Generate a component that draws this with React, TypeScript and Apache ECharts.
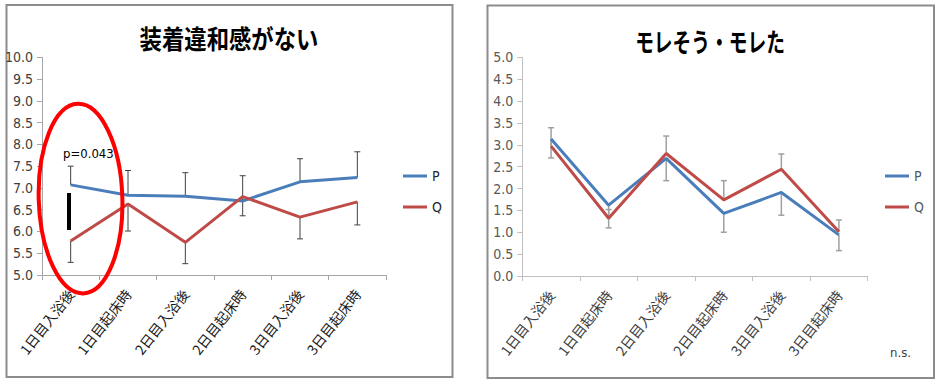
import React, { useEffect, useRef } from "react";
import * as echarts from "echarts";

const categories = ["1日目入浴後", "1日目起床時", "2日目入浴後", "2日目起床時", "3日目入浴後", "3日目起床時"];
const seriesNames = ["P", "Q"];

// left chart: 装着違和感がない
const leftTitle = "装着違和感がない";
const leftP = [7.07, 6.83, 6.81, 6.7, 7.14, 7.24];
const leftQ = [5.78, 6.63, 5.75, 6.8, 6.33, 6.68];
const leftPErrPlus = [0.43, 0.57, 0.54, 0.58, 0.53, 0.59];
const leftQErrMinus = [0.49, 0.62, 0.49, 0.44, 0.5, 0.53];
const leftAnnotation = "p=0.043";

// right chart: モレそう・モレた
const rightTitle = "モレそう・モレた";
const rightP = [3.13, 1.62, 2.69, 1.43, 1.91, 0.94];
const rightQ = [2.97, 1.32, 2.8, 1.74, 2.44, 1.01];
const rightPErrMinus = [0.43, 0.52, 0.51, 0.43, 0.52, 0.36];
const rightQErrPlus = [0.42, 0.2, 0.4, 0.44, 0.35, 0.27];
const rightAnnotation = "n.s.";

const BLUE = "#4a7ebb";
const RED = "#be4b48";
const NARROW = '"Liberation Sans Narrow", "DejaVu Sans Condensed", "Liberation Sans", sans-serif';
const CJK = '"Noto Sans CJK JP", "Noto Sans", sans-serif';

function errSeries(name: string, axisIndex: number, values: number[], errs: number[], dir: number, color: string, lw: number) {
  return {
    type: "custom",
    name,
    xAxisIndex: axisIndex,
    yAxisIndex: axisIndex,
    z: 1,
    silent: true,
    encode: { x: 0, y: 1 },
    data: values.map((v, i) => [i, v, errs[i], dir]),
    renderItem: (params: any, api: any) => {
      const x = api.value(0);
      const v = api.value(1);
      const e = api.value(2);
      const d = api.value(3);
      const p0 = api.coord([x, v]);
      const p1 = api.coord([x, v + d * e]);
      const hw = 3;
      const style = { stroke: color, lineWidth: lw };
      return {
        type: "group",
        children: [
          { type: "line", shape: { x1: p0[0], y1: p0[1], x2: p1[0], y2: p1[1] }, style },
          { type: "line", shape: { x1: p1[0] - hw, y1: p1[1], x2: p1[0] + hw, y2: p1[1] }, style },
        ],
      };
    },
  };
}

function lineSeries(name: string, axisIndex: number, values: number[], color: string) {
  return {
    type: "line",
    name,
    xAxisIndex: axisIndex,
    yAxisIndex: axisIndex,
    data: values,
    symbol: "none",
    z: 3,
    color,
    lineStyle: { color, width: 3 },
  };
}

export default function App() {
  const ref = useRef<HTMLDivElement>(null);
  useEffect(() => {
    if (!ref.current) return;
    const chart = echarts.init(ref.current, undefined, { renderer: "svg" });
    const xAxisBase = (labelColor: string, lineColor: string) => ({
      type: "category",
      data: categories,
      boundaryGap: true,
      axisLine: { lineStyle: { color: lineColor, width: 1 } },
      axisTick: { show: true, length: 5, lineStyle: { color: lineColor } },
      axisLabel: { rotate: 52, margin: 16, fontSize: 14, color: labelColor, fontFamily: CJK, interval: 0 },
      splitLine: { show: false },
    });
    const yAxisBase = (min: number, max: number, labelColor: string, lineColor: string) => ({
      type: "value",
      min,
      max,
      interval: 0.5,
      axisLine: { show: true, lineStyle: { color: lineColor, width: 1 } },
      axisTick: { show: true, length: 5, lineStyle: { color: lineColor } },
      axisLabel: {
        fontSize: 14,
        color: labelColor,
        fontFamily: NARROW,
        margin: 9,
        formatter: (v: number) => v.toFixed(1),
      },
      splitLine: { show: false },
    });
    const legendBase = (left: number, color: string) => ({
      data: seriesNames,
      orient: "vertical",
      left,
      top: 163,
      padding: 5,
      icon: "rect",
      itemWidth: 24,
      itemHeight: 3,
      itemGap: 15,
      textStyle: { fontSize: 14, lineHeight: 16, color, fontFamily: NARROW },
    });
    chart.setOption({
      animation: false,
      backgroundColor: "#ffffff",
      legend: [legendBase(398, "#262626"), legendBase(880, "#595959")],
      grid: [
        { left: 42, top: 57.3, width: 344, height: 217.7, containLabel: false },
        { left: 522.3, top: 57.3, width: 345.4, height: 218.7, containLabel: false },
      ],
      xAxis: [
        { ...xAxisBase("#1a1a1a", "#a6a6a6"), gridIndex: 0 },
        { ...xAxisBase("#404040", "#bfbfbf"), gridIndex: 1 },
      ],
      yAxis: [
        { ...yAxisBase(5, 10, "#404040", "#a6a6a6"), gridIndex: 0 },
        { ...yAxisBase(0, 5, "#595959", "#bfbfbf"), gridIndex: 1 },
      ],
      series: [
        errSeries("P-err", 0, leftP, leftPErrPlus, 1, "#404040", 1),
        errSeries("Q-err", 0, leftQ, leftQErrMinus, -1, "#404040", 1),
        lineSeries("P", 0, leftP, BLUE),
        lineSeries("Q", 0, leftQ, RED),
        errSeries("P-err2", 1, rightP, rightPErrMinus, -1, "#a0a0a0", 1.5),
        errSeries("Q-err2", 1, rightQ, rightQErrPlus, 1, "#a0a0a0", 1.5),
        lineSeries("P", 1, rightP, BLUE),
        lineSeries("Q", 1, rightQ, RED),
      ],
      graphic: [
        {
          type: "rect",
          shape: { x: 6.5, y: 5, width: 446, height: 372 },
          style: { fill: "none", stroke: "#8c8c8c", lineWidth: 2 },
          silent: true,
        },
        {
          type: "rect",
          shape: { x: 487.5, y: 5.5, width: 446.5, height: 372.5 },
          style: { fill: "none", stroke: "#8c8c8c", lineWidth: 2 },
          silent: true,
        },
        {
          type: "text",
          x: 229,
          y: 38,
          scaleX: 0.86,
          style: {
            text: leftTitle,
            fontSize: 26,
            fontWeight: "bold",
            fontFamily: CJK,
            fill: "#000",
            textAlign: "center",
            textVerticalAlign: "middle",
          },
        },
        {
          type: "text",
          x: 710,
          y: 41,
          scaleX: 0.72,
          style: {
            text: rightTitle,
            fontSize: 26,
            fontWeight: "bold",
            fontFamily: CJK,
            fill: "#000",
            textAlign: "center",
            textVerticalAlign: "middle",
          },
        },
        {
          type: "line",
          shape: { x1: 69, y1: 193, x2: 69, y2: 230 },
          style: { stroke: "#000", lineWidth: 4 },
          z: 10,
        },
        {
          type: "text",
          x: 63,
          y: 153,
          style: {
            text: leftAnnotation,
            fontSize: 13,
            fontFamily: NARROW,
            fill: "#000",
            textVerticalAlign: "middle",
          },
          z: 10,
        },
        {
          type: "ellipse",
          shape: { cx: 80.5, cy: 198.5, rx: 41.8, ry: 94.8 },
          originX: 80.5,
          originY: 198.5,
          rotation: 0.029,
          style: { fill: "none", stroke: "#ff0000", lineWidth: 4 },
          z: 20,
        },
        {
          type: "text",
          x: 890,
          y: 352,
          style: {
            text: rightAnnotation,
            fontSize: 13,
            fontFamily: NARROW,
            fill: "#404040",
            textVerticalAlign: "middle",
          },
        },
      ],
    });
    return () => chart.dispose();
  }, []);
  return (
    <div
      ref={ref}
      style={{ position: "fixed", left: 0, top: 0, width: 941, height: 384, background: "#fff" }}
    />
  );
}
